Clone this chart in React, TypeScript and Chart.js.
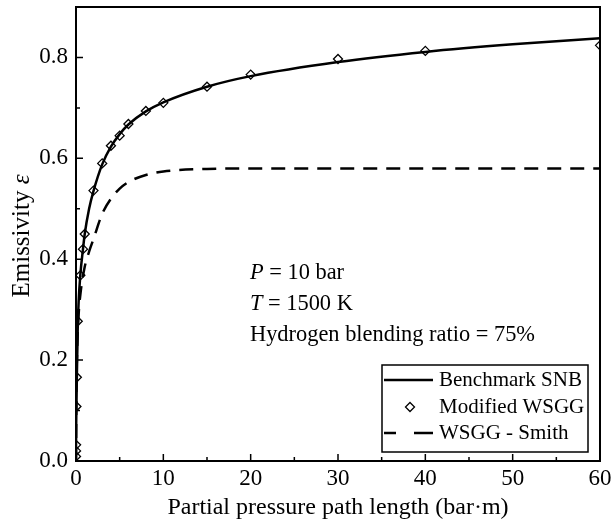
import React, { useEffect, useRef } from "react";
import { Chart, registerables } from "chart.js";

Chart.register(...registerables);

// ---- data ----
const snbX = [0, 0.005, 0.02, 0.05, 0.1, 0.2, 0.3, 0.5, 0.8, 1, 1.5, 2, 3, 4, 5, 6, 8, 10, 15, 20, 30, 40, 50, 60];
const snbY = [0, 0.03, 0.07, 0.11, 0.17, 0.265, 0.315, 0.37, 0.42, 0.45, 0.5, 0.535, 0.588, 0.623, 0.648, 0.667, 0.693, 0.711, 0.742, 0.763, 0.791, 0.811, 0.826, 0.838];

const wsggX = [0.001, 0.005, 0.01, 0.05, 0.1, 0.2, 0.5, 0.8, 1, 2, 3, 4, 5, 6, 8, 10, 15, 20, 30, 40, 60];
const wsggY = [0.009, 0.02, 0.032, 0.108, 0.166, 0.277, 0.368, 0.42, 0.45, 0.536, 0.59, 0.625, 0.645, 0.668, 0.694, 0.71, 0.742, 0.766, 0.797, 0.813, 0.824];

const smithX = [0, 0.05, 0.1, 0.3, 0.5, 1, 1.5, 2, 3, 4, 5, 6, 8, 10, 15, 20, 30, 40, 50, 60];
const smithY = [0, 0.15, 0.2, 0.29, 0.33, 0.385, 0.415, 0.44, 0.49, 0.52, 0.54, 0.553, 0.567, 0.574, 0.579, 0.58, 0.58, 0.58, 0.58, 0.58];

const xTicks = [0, 10, 20, 30, 40, 50, 60];
const xMinor = [5, 15, 25, 35, 45, 55];
const yTicks = [0, 0.2, 0.4, 0.6, 0.8];
const yMinor = [0.1, 0.3, 0.5, 0.7];

const seriesNames = ["Benchmark SNB", "Modified WSGG", "WSGG - Smith"];
const xTitle = "Partial pressure path length (bar·m)";
const yTitle = ["Emissivity ", "ε"];
const noteLines: [string, string][] = [
  ["P", " = 10 bar"],
  ["T", " = 1500 K"],
  ["", "Hydrogen blending ratio = 75%"],
];

const SERIF = "'Liberation Serif', 'Times New Roman', serif";

const toPts = (xs: number[], ys: number[]) => xs.map((x, i) => ({ x, y: ys[i] }));

const decor = {
  id: "decor",
  afterDraw(chart: any) {
    const { ctx, chartArea: a, scales } = chart;
    const x = scales.x;
    const y = scales.y;
    ctx.save();
    ctx.strokeStyle = "#000";
    ctx.fillStyle = "#000";

    // tick marks (inside)
    ctx.lineWidth = 1.5;
    ctx.beginPath();
    xTicks.forEach((v) => {
      const p = x.getPixelForValue(v);
      ctx.moveTo(p, a.bottom);
      ctx.lineTo(p, a.bottom - 7);
    });
    xMinor.forEach((v) => {
      const p = x.getPixelForValue(v);
      ctx.moveTo(p, a.bottom);
      ctx.lineTo(p, a.bottom - 4);
    });
    yTicks.forEach((v) => {
      const p = y.getPixelForValue(v);
      ctx.moveTo(a.left, p);
      ctx.lineTo(a.left + 7, p);
    });
    yMinor.forEach((v) => {
      const p = y.getPixelForValue(v);
      ctx.moveTo(a.left, p);
      ctx.lineTo(a.left + 4, p);
    });
    ctx.stroke();

    // frame
    ctx.lineWidth = 2;
    ctx.strokeRect(a.left, a.top, a.right - a.left, a.bottom - a.top);

    // x title
    ctx.font = `24px ${SERIF}`;
    ctx.textAlign = "center";
    ctx.textBaseline = "middle";
    ctx.fillText(xTitle, (a.left + a.right) / 2, 508);

    // y title (rotated, italic epsilon)
    ctx.save();
    ctx.translate(22, (a.top + a.bottom) / 2 + 2);
    ctx.rotate(-Math.PI / 2);
    ctx.textBaseline = "middle";
    ctx.textAlign = "left";
    ctx.font = `25px ${SERIF}`;
    const w1 = ctx.measureText(yTitle[0]).width;
    ctx.font = `italic 25px ${SERIF}`;
    const w2 = ctx.measureText(yTitle[1]).width;
    const start = -(w1 + w2) / 2;
    ctx.font = `25px ${SERIF}`;
    ctx.fillText(yTitle[0], start, 0);
    ctx.font = `italic 25px ${SERIF}`;
    ctx.fillText(yTitle[1], start + w1, 0);
    ctx.restore();

    // annotation
    ctx.textAlign = "left";
    ctx.textBaseline = "alphabetic";
    const nx = 250;
    const baselines = [279, 310, 341];
    noteLines.forEach(([it, rest], i) => {
      let cx = nx;
      if (it) {
        ctx.font = `italic 22.4px ${SERIF}`;
        ctx.fillText(it, cx, baselines[i]);
        cx += ctx.measureText(it).width;
      }
      ctx.font = `22.4px ${SERIF}`;
      ctx.fillText(rest, cx, baselines[i]);
    });

    // legend
    const lx = 382, ly = 365, lw = 206, lh = 87;
    ctx.fillStyle = "#fff";
    ctx.fillRect(lx, ly, lw, lh);
    ctx.strokeStyle = "#000";
    ctx.lineWidth = 1.5;
    ctx.strokeRect(lx, ly, lw, lh);
    ctx.fillStyle = "#000";
    const rows = [380, 407, 433];
    ctx.lineWidth = 2.5;
    ctx.beginPath();
    ctx.moveTo(384, rows[0]);
    ctx.lineTo(433, rows[0]);
    ctx.stroke();
    ctx.lineWidth = 1.3;
    ctx.beginPath();
    const dx = 410, dy = rows[1], r = 4.5;
    ctx.moveTo(dx, dy - r);
    ctx.lineTo(dx + r, dy);
    ctx.lineTo(dx, dy + r);
    ctx.lineTo(dx - r, dy);
    ctx.closePath();
    ctx.stroke();
    ctx.lineWidth = 2.5;
    ctx.beginPath();
    ctx.moveTo(384, rows[2]);
    ctx.lineTo(396, rows[2]);
    ctx.moveTo(414, rows[2]);
    ctx.lineTo(433, rows[2]);
    ctx.stroke();
    ctx.font = `21px ${SERIF}`;
    ctx.textBaseline = "middle";
    ctx.textAlign = "left";
    seriesNames.forEach((n, i) => ctx.fillText(n, 439, rows[i]));

    ctx.restore();
  },
};

export default function App() {
  const ref = useRef<HTMLCanvasElement>(null);
  useEffect(() => {
    if (!ref.current) return;
    const chart = new Chart(ref.current, {
      type: "line",
      data: {
        datasets: [
          {
            label: seriesNames[0],
            data: toPts(snbX, snbY),
            borderColor: "#000",
            borderWidth: 2.5,
            pointRadius: 0,
            cubicInterpolationMode: "monotone",
            fill: false,
          },
          {
            label: seriesNames[2],
            data: toPts(smithX, smithY),
            borderColor: "#000",
            borderWidth: 2.5,
            borderDash: [14, 9],
            pointRadius: 0,
            cubicInterpolationMode: "monotone",
            fill: false,
          },
          {
            label: seriesNames[1],
            data: toPts(wsggX, wsggY),
            showLine: false,
            pointStyle: "rectRot",
            pointRadius: 4.5,
            pointBorderWidth: 1.3,
            pointBorderColor: "#000",
            pointBackgroundColor: "rgba(0,0,0,0)",
            clip: 0,
          } as any,
        ],
      },
      options: {
        animation: false,
        responsive: false,
        maintainAspectRatio: false,
        layout: { padding: { top: 7, right: 12, left: 0, bottom: 0 } },
        plugins: { legend: { display: false }, tooltip: { enabled: false } },
        scales: {
          x: {
            type: "linear",
            min: 0,
            max: 60,
            grid: { display: false, drawTicks: false },
            border: { display: false },
            afterBuildTicks: (s: any) => {
              s.ticks = xTicks.map((v) => ({ value: v }));
            },
            afterFit: (s: any) => {
              s.height = 65;
              s.paddingLeft = 0;
              s.paddingRight = 0;
            },
            ticks: {
              color: "#000",
              font: { family: SERIF, size: 23 },
              padding: 4,
              maxRotation: 0,
              callback: (v: any) => String(v),
            },
          },
          y: {
            type: "linear",
            min: 0,
            max: 0.9,
            grid: { display: false, drawTicks: false },
            border: { display: false },
            afterBuildTicks: (s: any) => {
              s.ticks = yTicks.map((v) => ({ value: v }));
            },
            afterFit: (s: any) => {
              s.width = 76;
              s.paddingTop = 0;
              s.paddingBottom = 0;
            },
            ticks: {
              color: "#000",
              font: { family: SERIF, size: 23 },
              padding: 8,
              callback: (v: any) => Number(v).toFixed(1),
            },
          },
        },
      },
      plugins: [decor],
    });
    return () => chart.destroy();
  }, []);
  return (
    <div style={{ position: "fixed", left: 0, top: 0, width: 612, height: 526, background: "#fff" }}>
      <canvas ref={ref} width={612} height={526} style={{ display: "block" }} />
    </div>
  );
}
